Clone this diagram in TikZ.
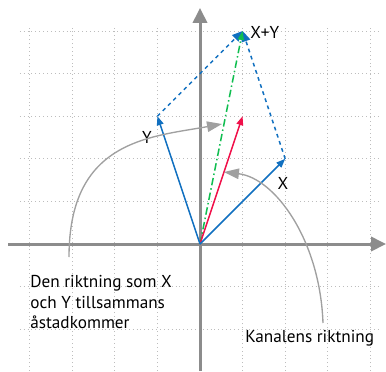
\documentclass[tikz,border=0pt]{standalone}
\usepackage{fontspec}
\setmainfont{PT Sans}
\usetikzlibrary{arrows.meta}
\definecolor{vblue}{HTML}{1170C0}
\definecolor{vred}{HTML}{F0104A}
\definecolor{vgreen}{HTML}{10BE50}
\definecolor{axgray}{HTML}{8C8C8C}
\definecolor{arcgray}{HTML}{A0A0A0}
\definecolor{gridgray}{HTML}{BDBDBD}
\tikzset{
  gridline/.style={gridgray, line width=0.6pt, dotted},
  axis/.style={axgray, line width=2pt, -{Triangle[length=10pt,width=9.5pt]}},
  vec/.style={line width=1pt, -{Triangle[length=6pt,width=4.5pt]}},
  dvec/.style={vblue, line width=1pt, dash pattern=on 2.5pt off 2.5pt, -{Triangle[length=7pt,width=6pt]}},
  gvec/.style={vgreen, line width=1pt, dash pattern=on 5pt off 2pt on 1pt off 2pt, -{Triangle[length=6pt,width=4pt]}},
  pointer/.style={arcgray, line width=0.9pt, -{Triangle[length=10pt,width=7pt]}},
  lbl/.style={font=\fontsize{11.5}{14}\selectfont, inner sep=0pt},
}
\begin{document}
\begin{tikzpicture}
\useasboundingbox (-4.695,-2.981) rectangle (4.366,5.728);
% grid
\foreach \i in {-4,...,4} \draw[gridline] (\i,-2.981) -- (\i,5.13);
\foreach \j in {-2,...,5} \draw[gridline] (-4.23,\j) -- (4.25,\j);
% axes
\coordinate (O) at (0,0);
\coordinate (xs) at (-4.507,0);
\coordinate (xe) at (4.366,0);
\coordinate (ys) at (0,-2.981);
\coordinate (ye) at (0,5.54);
\draw[axis] (xs) -- (xe);
\draw[axis] (ys) -- (ye);
% vectors
\coordinate (X) at (2,2);
\coordinate (Y) at (-1,3);
\coordinate (XY) at (1,5);
\coordinate (R) at (1,3);
\draw[dvec] (X) -- (XY);
\draw[dvec] (Y) -- (XY);
\draw[gvec] (O) -- (XY);
\draw[vec, vred] (O) -- (R);
\draw[vec, vblue] (O) -- (X);
\draw[vec, vblue] (O) -- (Y);
% labels
\node[lbl] (lx) at (1.948,1.432) {X};
\node[lbl] (ly) at (-1.244,2.512) {Y};
\node[lbl, anchor=west] (lxy) at (1.174,4.977) {X+Y};
\node[lbl, anchor=west, align=left] (ltog) at (-3.99,-1.362) {Den riktning som X\\och Y tillsammans\\åstadkommer};
\node[lbl, anchor=west] (lkan) at (1.056,-2.207) {Kanalens riktning};
% pointer arcs
\coordinate (a1s) at (-3.075,-0.305);
\coordinate (a1e) at (0.516,2.817);
\coordinate (a2s) at (2.887,-1.854);
\coordinate (a2e) at (0.563,1.690);
\draw[pointer] (a1s) .. controls (-3.075,2.441) and (-1.174,2.512) .. (a1e);
\draw[pointer] (a2s) .. controls (2.817,0.094) and (1.761,1.549) .. (a2e);
\end{tikzpicture}
\end{document}
